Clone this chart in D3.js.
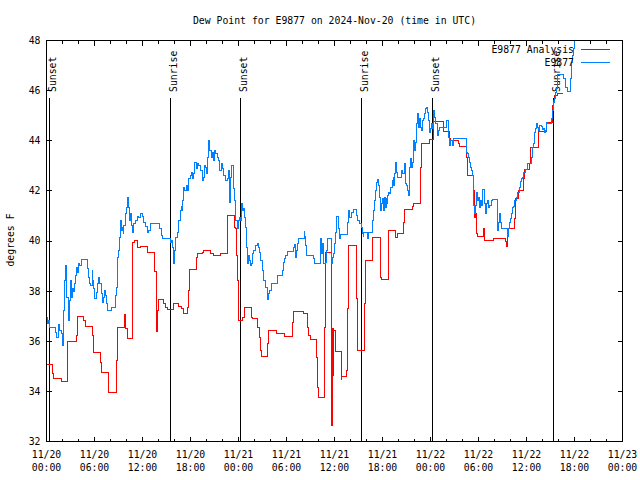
<!DOCTYPE html>
<html>
<head>
<meta charset="utf-8">
<script src="https://cdn.jsdelivr.net/npm/d3@7"></script>
<style>
  html, body { margin: 0; padding: 0; background: #fff; }
  svg text { font-family: "DejaVu Sans Mono", monospace; font-size: 9.8px; fill: #000; }
</style>
</head>
<body>
<svg id="chart" width="640" height="480"></svg>
<script>
// ---------- data ----------
const chartTitle = "Dew Point for E9877 on 2024-Nov-20 (time in UTC)";
const yAxisLabel = "degrees F";
const seriesNames = ["E9877 Analysis", "E9877"];

// hours since 11/20 00:00 UTC
const xTickHours = [0, 6, 12, 18, 24, 30, 36, 42, 48, 54, 60, 66, 72];
const xTickDates = ["11/20","11/20","11/20","11/20","11/21","11/21","11/21","11/21","11/22","11/22","11/22","11/22","11/23"];
const xTickTimes = ["00:00","06:00","12:00","18:00","00:00","06:00","12:00","18:00","00:00","06:00","12:00","18:00","00:00"];
const yTicks = [32, 34, 36, 38, 40, 42, 44, 46, 48];

const eventNames = ["Sunset", "Sunrise", "Sunset", "Sunrise", "Sunset", "Sunrise"];
const eventHours = [0.375, 15.5, 24.25, 39.375, 48.23, 63.35];

const analysisHours = [0.08,0.71,0.92,1.83,2.58,2.67,3.71,3.83,4.67,4.88,5.71,5.92,6.75,6.83,7.71,7.79,8.71,8.83,9.79,9.88,10.17,10.71,10.79,11.0,11.42,11.75,12.58,13.54,13.71,13.79,13.88,14.04,14.58,14.88,15.08,15.92,16.54,16.83,17.08,17.58,17.71,17.92,18.71,18.83,19.46,19.67,20.5,20.83,21.75,22.6,23.5,23.63,23.75,23.83,23.96,24.04,24.5,24.75,25.58,25.71,26.42,26.67,26.75,26.88,27.67,27.79,28.75,29.75,30.71,30.83,31.96,32.17,32.67,32.79,33.0,33.75,33.92,34.04,34.75,34.88,35.58,35.67,35.75,35.83,35.92,36.17,36.83,36.9,37.5,37.67,37.79,38.75,38.83,39.75,39.83,40.71,41.75,41.83,42.75,43.67,43.83,44.67,44.75,45.71,45.92,46.75,46.83,47.83,48.42,49.58,50.42,50.5,51.54,51.67,52.46,52.58,53.33,53.5,53.58,53.75,53.83,54.58,54.75,55.83,56.96,57.38,57.46,57.58,57.79,58.54,58.63,59.04,59.58,59.75,60.42,60.5,61.5,61.54,62.5,63.29,63.42,63.5,63.92,64.6];
const analysisValues = [35.07,34.7,34.5,34.4,35.2,36.0,36.23,37.0,36.83,36.6,36.23,35.54,35.14,34.74,34.3,33.94,35.23,36.55,37.06,36.5,36.12,38.03,39.93,40.02,39.73,39.77,39.55,38.8,37.23,36.4,37.23,37.65,37.5,37.36,37.27,37.5,37.4,37.3,37.1,37.36,38.03,38.85,39.36,39.49,39.55,39.61,39.5,39.42,39.5,41.02,40.55,40.5,39.42,38.42,37.36,36.83,36.95,37.33,36.96,36.9,36.56,36.16,35.63,35.39,35.9,36.42,36.3,36.18,36.76,37.2,37.17,37.1,36.56,36.23,36.06,35.36,34.17,33.77,36.56,39.53,36.56,32.64,36.5,34.63,36.43,35.6,34.47,34.6,34.83,37.29,39.82,37.69,35.63,37.5,39.22,40.15,38.55,38.46,40.42,40.15,40.29,40.75,41.25,41.38,41.48,42.92,43.88,44.04,44.78,44.38,44.08,44.01,43.88,43.77,43.35,42.6,42.02,40.95,41.08,40.28,40.18,40.49,40.02,40.09,40.1,40.0,39.8,40.29,40.49,40.89,41.68,42.02,42.48,42.84,43.11,43.75,44.28,44.35,44.74,45.41,45.6,45.81,45.9,45.9];

const stationHours = [0.08,0.17,0.29,0.42,1.13,1.25,1.54,1.67,1.83,1.96,2.08,2.17,2.25,2.38,2.5,2.71,2.79,2.92,3.0,3.13,3.21,3.33,3.5,3.63,3.75,3.92,4.04,4.17,4.33,5.08,5.21,5.38,5.5,5.71,5.79,5.92,6.04,6.21,6.42,6.54,6.67,6.83,6.96,7.08,7.25,7.38,7.5,7.67,8.13,8.63,8.75,8.92,9.04,9.17,9.25,9.38,9.5,9.58,9.67,9.83,9.96,10.08,10.21,10.33,10.5,10.63,10.75,10.92,11.13,11.33,11.54,11.75,11.96,12.17,12.38,12.58,12.79,13.0,14.17,14.33,14.46,15.5,15.63,15.75,15.92,16.04,16.17,16.33,16.54,16.75,16.83,16.96,17.04,17.17,17.29,17.46,17.58,17.71,17.79,18.0,18.13,18.29,18.42,18.54,18.71,18.83,19.04,19.25,19.46,19.58,19.75,19.88,20.0,20.17,20.29,20.42,20.58,20.71,20.83,21.0,21.13,21.33,21.54,21.67,21.83,21.96,22.17,22.38,22.58,22.71,22.83,22.92,23.0,23.13,23.42,23.5,23.63,23.83,23.96,24.13,24.25,24.38,24.54,24.67,24.75,24.88,24.96,25.08,25.21,25.38,25.5,25.58,25.71,25.92,26.13,26.33,26.46,26.63,26.75,26.96,27.17,27.38,27.58,27.79,27.92,28.08,28.83,29.46,29.58,29.75,29.88,30.17,30.92,31.04,31.13,31.25,31.42,31.54,32.21,32.29,32.38,32.5,33.42,33.5,34.25,34.33,34.46,34.58,34.67,34.88,35.0,35.08,35.17,35.58,35.71,35.83,36.0,36.13,36.25,36.54,36.67,36.75,37.67,37.79,37.92,38.08,38.33,38.75,38.92,39.17,39.33,39.46,39.58,39.67,40.17,40.29,40.71,40.83,41.0,41.13,41.25,41.42,41.54,41.67,41.75,41.88,41.96,42.08,42.25,42.38,42.5,42.58,42.67,42.79,42.92,43.0,43.21,43.33,43.42,43.5,43.63,43.75,43.83,44.33,44.46,44.75,44.88,45.0,45.17,45.29,45.42,45.5,45.58,45.71,45.83,45.92,46.04,46.13,46.25,46.42,46.54,46.67,46.75,46.83,46.96,47.08,47.25,47.38,47.5,47.58,47.71,47.83,47.92,48.0,48.13,48.25,48.33,48.42,48.54,48.67,48.83,48.96,49.17,49.96,50.29,50.38,50.5,50.71,50.83,50.92,52.46,52.58,52.71,52.83,52.96,53.08,53.21,53.33,53.42,53.5,53.63,53.75,53.83,53.96,54.08,54.25,54.38,54.5,54.75,54.88,55.0,55.17,55.29,55.42,55.58,55.75,56.33,56.42,56.54,56.67,56.75,56.92,57.58,57.67,57.79,57.92,58.0,58.13,58.25,58.42,58.54,58.75,58.92,59.08,59.25,59.38,59.54,59.67,59.88,60.08,60.58,60.71,60.83,61.0,61.13,61.25,61.42,61.54,61.67,61.83,61.96,62.08,62.25,62.38,62.5,62.67,62.92,63.08,63.21,63.33,63.5,63.63,63.75,63.92,64.58,64.88,65.08,65.5,65.63,65.75,65.83,66.0,66.2];
const stationValues = [36.94,36.7,36.83,36.55,36.36,36.16,36.67,36.43,36.3,35.83,36.16,37.23,38.42,39.02,37.76,37.49,36.83,37.63,38.42,37.76,38.09,38.0,38.29,38.62,38.95,38.76,39.09,39.02,39.25,38.89,38.56,38.29,38.23,38.82,38.42,38.09,37.69,37.96,38.29,38.56,38.29,37.89,37.56,37.76,38.03,37.83,37.49,37.23,37.33,37.83,38.16,39.36,39.62,40.15,40.82,40.42,40.55,40.29,40.62,41.09,41.35,41.75,41.35,40.82,41.09,40.62,40.35,40.69,40.82,40.98,40.95,41.11,40.98,40.75,40.58,40.35,40.42,40.69,40.49,40.22,40.09,39.95,40.02,39.76,39.09,39.62,40.15,40.35,40.82,41.22,41.38,41.22,41.62,42.15,42.02,42.22,42.02,42.35,42.48,42.61,42.75,42.48,42.68,43.15,42.88,43.08,43.02,42.81,42.42,42.55,43.02,42.95,42.68,43.35,44.01,43.61,43.35,43.55,43.21,43.61,43.48,43.35,43.21,42.81,43.08,42.88,42.61,42.42,42.48,42.81,42.15,41.55,42.55,43.02,42.1,41.62,40.82,40.49,40.82,40.95,40.82,41.48,41.22,41.28,40.95,40.55,39.75,39.09,39.42,39.22,39.02,39.1,39.49,39.62,39.82,39.91,39.75,39.55,39.22,38.82,38.42,38.16,37.65,37.89,38.03,38.29,38.62,38.82,39.16,39.29,39.42,39.58,39.75,39.85,39.36,39.62,39.89,40.09,40.38,40.16,39.82,39.42,39.29,39.09,40.09,39.49,39.89,39.29,39.09,39.15,39.62,40.02,40.09,39.09,39.36,39.49,39.89,40.35,40.98,40.49,40.09,40.26,40.75,41.22,40.95,41.15,41.25,41.02,40.82,40.69,40.55,40.29,40.16,40.35,40.09,40.35,40.82,41.22,41.62,42.02,42.35,42.44,42.22,41.75,41.22,41.48,41.68,41.22,41.75,41.35,41.68,41.48,41.82,41.95,41.88,42.15,42.42,42.55,42.22,42.68,43.15,42.75,42.52,42.81,42.68,43.08,42.28,42.22,42.02,41.82,42.95,43.28,42.95,43.15,43.81,44.01,43.61,43.94,44.68,45.08,44.54,44.88,44.54,44.41,44.81,44.88,45.08,45.27,45.34,45.14,44.81,44.54,44.34,44.48,44.68,44.48,44.94,45.21,44.94,44.68,44.21,44.41,44.51,44.81,44.14,43.81,44.01,43.81,43.94,44.08,43.55,43.48,43.35,43.15,42.95,42.81,42.61,42.15,41.42,41.08,41.42,41.95,41.62,41.75,41.35,41.62,41.42,42.04,41.48,41.08,41.48,41.62,41.35,41.42,41.62,41.64,41.02,40.42,40.75,41.08,40.75,40.49,40.42,40.18,40.49,40.75,40.89,41.08,41.35,41.38,41.62,41.75,41.95,42.15,42.39,42.48,42.55,42.75,42.84,43.11,43.35,43.75,43.88,44.34,44.48,44.68,44.54,44.41,44.61,44.57,44.44,44.48,44.34,44.41,44.74,44.7,44.68,44.88,45.21,45.54,45.67,45.94,46.07,46.63,46.47,46.14,45.97,46.47,47.14,47.4,47.67,48.4,48.4];

// ---------- layout ----------
const svg = d3.select("#chart");
const L = 46.5, R = 622.5, T = 40.5, B = 441.5;
const x = d3.scaleLinear().domain([0, 72]).range([L, R]);
const y = d3.scaleLinear().domain([32, 48]).range([B, T]);

svg.append("defs").append("clipPath").attr("id", "plotclip")
  .append("rect").attr("x", L).attr("y", T).attr("width", R - L).attr("height", B - T);

// title
svg.append("text").attr("x", (L + R) / 2).attr("y", 24)
  .attr("text-anchor", "middle").text(chartTitle);

// y label
svg.append("text").attr("transform", "translate(14,240) rotate(-90)")
  .attr("text-anchor", "middle").text(yAxisLabel);

// axes ticks
const majorX = d3.range(0, 73, 6);
const minorX = d3.range(0, 73, 2).filter(h => h % 6 !== 0);
function noLabel() { return ""; }
function styleAxis(g) {
  g.select(".domain").remove();
  g.selectAll(".tick line").attr("stroke", "#000").attr("shape-rendering", "crispEdges");
  g.selectAll(".tick text").remove();
}
svg.append("g").attr("transform", `translate(0,${B})`)
  .call(d3.axisBottom(x).tickValues(majorX).tickSizeInner(-5).tickSizeOuter(0).tickFormat(noLabel).offset(0)).call(styleAxis);
svg.append("g").attr("transform", `translate(0,${B})`)
  .call(d3.axisBottom(x).tickValues(minorX).tickSizeInner(-3).tickSizeOuter(0).tickFormat(noLabel).offset(0)).call(styleAxis);
svg.append("g").attr("transform", `translate(0,${T})`)
  .call(d3.axisTop(x).tickValues(majorX).tickSizeInner(-5).tickSizeOuter(0).tickFormat(noLabel).offset(0)).call(styleAxis);
svg.append("g").attr("transform", `translate(0,${T})`)
  .call(d3.axisTop(x).tickValues(minorX).tickSizeInner(-3).tickSizeOuter(0).tickFormat(noLabel).offset(0)).call(styleAxis);

const yLeft = svg.append("g").attr("transform", `translate(${L},0)`)
  .call(d3.axisLeft(y).tickValues(yTicks).tickSizeInner(-5).tickSizeOuter(0).tickPadding(6).offset(0));
yLeft.select(".domain").remove();
yLeft.selectAll(".tick line").attr("stroke", "#000").attr("shape-rendering", "crispEdges");
yLeft.selectAll(".tick text").attr("fill", "#000").style("font-size", "9.8px")
  .style("font-family", "'DejaVu Sans Mono', monospace").attr("dy", "0.35em");
svg.append("g").attr("transform", `translate(${R},0)`)
  .call(d3.axisRight(y).tickValues(yTicks).tickSizeInner(-5).tickSizeOuter(0).tickFormat(noLabel).offset(0)).call(styleAxis);

// x labels
const xl = svg.append("g");
xTickHours.forEach((h, i) => {
  xl.append("text").attr("x", x(h)).attr("y", 458).attr("text-anchor", "middle").text(xTickDates[i]);
  xl.append("text").attr("x", x(h)).attr("y", 471).attr("text-anchor", "middle").text(xTickTimes[i]);
});

// sunrise / sunset markers
const ev = svg.append("g");
eventHours.forEach((h, i) => {
  const ex = Math.round(x(h) - 0.5) + 0.5;
  ev.append("line").attr("x1", ex).attr("x2", ex).attr("y1", 97.5).attr("y2", B)
    .attr("stroke", "#000").attr("stroke-width", 1).attr("shape-rendering", "crispEdges");
  ev.append("text").attr("transform", `translate(${ex + 6},92) rotate(-90)`)
    .attr("text-anchor", "start").text(eventNames[i]);
});

// series
const colors = ["#ff0000", "#0080ff"];
const series = [
  analysisHours.map((h, i) => [h, analysisValues[i]]),
  stationHours.map((h, i) => [h, stationValues[i]])
];
const line = d3.line().x(d => x(d[0])).y(d => y(d[1])).curve(d3.curveStepAfter);
const plot = svg.append("g").attr("clip-path", "url(#plotclip)");
series.forEach((s, i) => {
  plot.append("path").datum(s).attr("d", line).attr("fill", "none")
    .attr("stroke", colors[i]).attr("stroke-width", 1).attr("shape-rendering", "crispEdges");
});

// legend
const legY = [49.5, 62.5];
seriesNames.forEach((n, i) => {
  svg.append("text").attr("x", 574).attr("y", legY[i] + 3.5).attr("text-anchor", "end").text(n);
  svg.append("line").attr("x1", 581).attr("x2", 610).attr("y1", legY[i]).attr("y2", legY[i])
    .attr("stroke", colors[i]).attr("stroke-width", 1).attr("shape-rendering", "crispEdges");
});

// frame
svg.append("rect").attr("x", L).attr("y", T).attr("width", R - L).attr("height", B - T)
  .attr("fill", "none").attr("stroke", "#000").attr("stroke-width", 1).attr("shape-rendering", "crispEdges");
</script>
</body>
</html>
